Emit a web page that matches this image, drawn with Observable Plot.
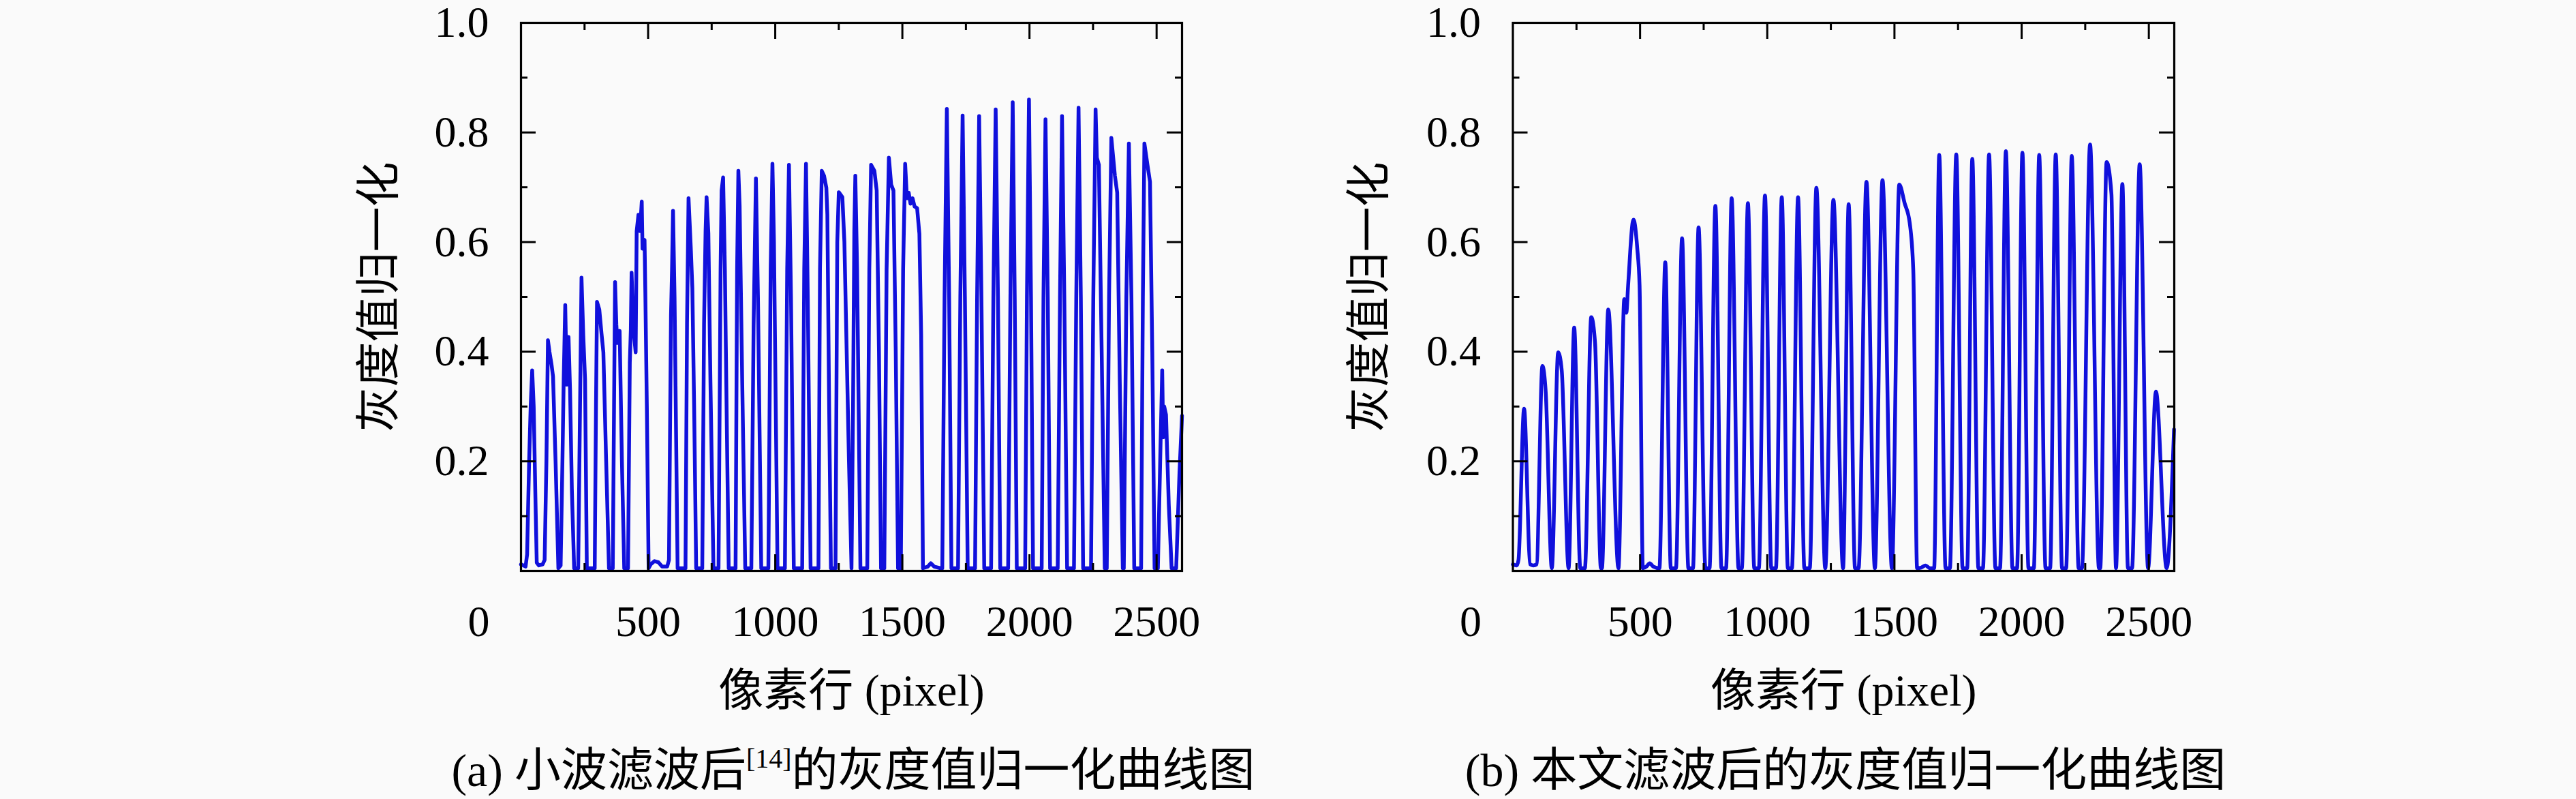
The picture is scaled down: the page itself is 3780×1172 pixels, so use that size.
<!DOCTYPE html>
<html>
<head>
<meta charset="utf-8">
<script src="https://cdn.jsdelivr.net/npm/d3@7"></script>
<script src="https://cdn.jsdelivr.net/npm/@observablehq/plot@0.6"></script>
<style>
html, body { margin: 0; padding: 0; background: #fafafa; }
#wrap { position: relative; width: 3780px; height: 1172px; overflow: hidden; background: #fafafa; }
.panel { position: absolute; top: 0; }
.cap { position: absolute; top: 1088px; font-family: 'Liberation Serif', 'Noto Sans CJK SC', serif; font-size: 68px; line-height: 84px; white-space: nowrap; transform: translateX(-50%); color: #000; }
.cap sup { font-size: 40px; vertical-align: 0; position: relative; top: -27px; }
</style>
</head>
<body>
<div id="wrap">
  <div class="panel" id="pa" style="left:0px"></div>
  <div class="panel" id="pb" style="left:1890px"></div>
  <div class="cap" style="left:1252px">(a) 小波滤波后<sup>[14]</sup>的灰度值归一化曲线图</div>
  <div class="cap" style="left:2708px">(b) 本文滤波后的灰度值归一化曲线图</div>
</div>
<script>
// ---- axis tick values ----
const xMajorTicks = [500, 1000, 1500, 2000, 2500];
const xMinorTicks = [250, 750, 1250, 1750, 2250];
const yMajorTicks = [0.2, 0.4, 0.6, 0.8];
const yMinorTicks = [0.1, 0.3, 0.5, 0.7, 0.9];
const yLabelTicks = [0.2, 0.4, 0.6, 0.8, 1.0];
const xOriginLabel = [0];
const xDomain = [0, 2600];
const yDomain = [0, 1];
const yTitle = "灰度值归一化";
const xTitle = "像素行 (pixel)";

// ---- (a) wavelet filtered curve ----
const waveletX = [0,18,24,32,38,44,50,56,62,70,85,93,100,106,112,120,126,136,147,156,163,168,174,180,187,193,200,209,225,231,238,245,252,259,290,295,299,308,317,324,335,346,361,366,370,375,379,388,397,406,421,428,432,435,442,451,455,462,468,475,478,486,489,495,502,510,525,540,555,575,582,590,594,598,604,610,616,647,653,659,668,674,681,689,713,720,726,730,737,745,757,777,785,789,795,802,810,817,844,850,855,860,870,882,906,915,924,932,945,973,982,989,995,1002,1009,1038,1047,1054,1062,1073,1106,1114,1121,1128,1139,1170,1176,1183,1192,1201,1205,1212,1219,1237,1244,1250,1264,1272,1290,1300,1306,1311,1315,1322,1335,1362,1370,1377,1390,1399,1408,1416,1429,1438,1447,1456,1465,1474,1483,1494,1503,1511,1518,1525,1532,1540,1548,1558,1567,1574,1581,1600,1612,1625,1650,1657,1666,1675,1684,1693,1719,1728,1737,1746,1757,1786,1794,1802,1811,1822,1849,1858,1867,1876,1885,1916,1925,1934,1942,1950,1983,1990,1998,2006,2014,2048,2055,2063,2072,2081,2111,2120,2128,2137,2148,2175,2184,2193,2202,2211,2242,2251,2260,2265,2273,2284,2296,2304,2313,2322,2336,2345,2355,2367,2371,2381,2391,2401,2412,2439,2446,2452,2464,2474,2483,2492,2505,2514,2522,2526,2530,2537,2548,2559,2577,2590,2600];
const waveletY = [0.012,0.008,0.03,0.2,0.3,0.366,0.3,0.15,0.015,0.01,0.012,0.02,0.2,0.421,0.4,0.377,0.355,0.2,0.005,0.01,0.2,0.35,0.485,0.34,0.427,0.33,0.15,0.005,0.005,0.25,0.535,0.43,0.35,0.005,0.005,0.3,0.491,0.477,0.432,0.399,0.2,0.005,0.005,0.3,0.527,0.45,0.416,0.438,0.2,0.005,0.005,0.38,0.44,0.544,0.444,0.399,0.62,0.65,0.62,0.674,0.588,0.604,0.51,0.3,0.005,0.012,0.018,0.016,0.008,0.008,0.02,0.466,0.55,0.657,0.5,0.25,0.005,0.005,0.45,0.68,0.588,0.516,0.3,0.005,0.005,0.45,0.62,0.682,0.616,0.35,0.005,0.005,0.55,0.694,0.718,0.55,0.25,0.005,0.005,0.55,0.73,0.666,0.35,0.005,0.005,0.45,0.716,0.5,0.005,0.005,0.55,0.743,0.6,0.3,0.005,0.005,0.55,0.741,0.5,0.005,0.005,0.55,0.743,0.5,0.005,0.005,0.55,0.73,0.721,0.699,0.65,0.3,0.005,0.005,0.6,0.691,0.682,0.6,0.2,0.005,0.3,0.62,0.721,0.55,0.005,0.005,0.55,0.741,0.73,0.694,0.4,0.005,0.005,0.55,0.754,0.705,0.694,0.4,0.005,0.005,0.55,0.743,0.68,0.69,0.67,0.68,0.665,0.662,0.615,0.43,0.005,0.008,0.014,0.008,0.005,0.005,0.5,0.843,0.5,0.005,0.005,0.5,0.831,0.5,0.005,0.005,0.5,0.83,0.5,0.005,0.005,0.5,0.842,0.5,0.005,0.005,0.5,0.855,0.5,0.005,0.005,0.5,0.86,0.5,0.005,0.005,0.5,0.824,0.5,0.005,0.005,0.5,0.83,0.5,0.005,0.005,0.5,0.845,0.5,0.005,0.005,0.5,0.842,0.754,0.741,0.4,0.005,0.005,0.5,0.79,0.721,0.69,0.35,0.005,0.005,0.5,0.78,0.5,0.005,0.005,0.5,0.78,0.741,0.71,0.4,0.005,0.005,0.2,0.366,0.244,0.3,0.285,0.12,0.005,0.005,0.18,0.283];

// ---- (b) proposed filtered curve ----
const proposedX = [0,15,22,44,68,80,93,116,129,153,178,192,219,241,265,283,308,323,346,350,375,415,438,446,453,474,489,498,511,525,538,552,576,599,621,641,665,690,708,730,757,773,796,820,838,860,887,900,924,949,967,991,1016,1034,1057,1081,1097,1121,1146,1167,1193,1228,1260,1298,1320,1345,1359,1390,1423,1453,1490,1519,1540,1560,1574,1589,1605,1622,1640,1656,1676,1701,1718,1743,1768,1786,1806,1830,1848,1872,1897,1915,1938,1964,1982,2003,2027,2048,2069,2094,2112,2134,2159,2175,2197,2224,2237,2269,2304,2309,2334,2353,2371,2396,2418,2434,2464,2497,2528,2570,2599];
const proposedY = [0.012,0.01,0.02,0.296,0.012,0.01,0.012,0.374,0.327,0.005,0.399,0.366,0.005,0.444,0.005,0.005,0.463,0.416,0.005,0.005,0.477,0.005,0.496,0.471,0.521,0.641,0.588,0.521,0.005,0.008,0.014,0.008,0.005,0.563,0.005,0.005,0.607,0.005,0.005,0.627,0.005,0.005,0.666,0.005,0.005,0.68,0.005,0.005,0.671,0.005,0.005,0.685,0.005,0.005,0.682,0.005,0.005,0.682,0.005,0.005,0.699,0.005,0.677,0.005,0.669,0.005,0.005,0.71,0.005,0.713,0.005,0.705,0.671,0.635,0.549,0.005,0.006,0.01,0.005,0.005,0.759,0.005,0.005,0.76,0.005,0.005,0.752,0.005,0.005,0.76,0.005,0.005,0.766,0.005,0.005,0.763,0.005,0.005,0.759,0.005,0.005,0.76,0.005,0.005,0.757,0.005,0.005,0.778,0.005,0.005,0.746,0.688,0.005,0.706,0.005,0.005,0.742,0.005,0.327,0.005,0.258];

const SVG_W = 1890, SVG_H = 1060, M_TOP = 33, M_BOTTOM = 223;
const FRAME_H = SVG_H - M_TOP - M_BOTTOM;
const LATIN = "'Liberation Serif', 'Noto Sans CJK SC', serif";
const CJK = "'Liberation Serif', 'Noto Sans CJK SC', sans-serif";

function panel(xs, ys, {marginLeft, marginRight, yTitleDx, curve}) {
  const frameW = SVG_W - marginLeft - marginRight;
  const idx = d3.range(xs.length);
  const tick = {stroke: "#000", strokeWidth: 3};
  return Plot.plot({
    width: SVG_W,
    height: SVG_H,
    marginLeft, marginRight,
    marginTop: M_TOP,
    marginBottom: M_BOTTOM,
    x: {domain: xDomain},
    y: {domain: yDomain},
    style: {background: "#fafafa", fontFamily: LATIN, color: "#000", maxWidth: "none", overflow: "visible"},
    marks: [
      Plot.line(idx, {x: i => xs[i], y: i => ys[i], stroke: "#1010dc", strokeWidth: 5.5, curve, strokeLinejoin: "round"}),
      Plot.frame({stroke: "#000", strokeWidth: 3.2}),
      Plot.tickX(xMajorTicks, {x: d => d, insetTop: FRAME_H - 24, ...tick}),
      Plot.tickX(xMajorTicks, {x: d => d, insetBottom: FRAME_H - 24, ...tick}),
      Plot.tickX(xMinorTicks, {x: d => d, insetTop: FRAME_H - 11, ...tick}),
      Plot.tickX(xMinorTicks, {x: d => d, insetBottom: FRAME_H - 11, ...tick}),
      Plot.tickY(yMajorTicks, {y: d => d, insetRight: frameW - 22, ...tick}),
      Plot.tickY(yMajorTicks, {y: d => d, insetLeft: frameW - 22, ...tick}),
      Plot.tickY(yMinorTicks, {y: d => d, insetRight: frameW - 10, ...tick}),
      Plot.tickY(yMinorTicks, {y: d => d, insetLeft: frameW - 10, ...tick}),
      Plot.axisX(xMajorTicks, {tickSize: 0, tickPadding: 50, fontSize: 64, label: null, fontFamily: LATIN, tickFormat: d => String(d)}),
      Plot.axisY(yLabelTicks, {tickSize: 0, tickPadding: 47, fontSize: 64, label: null, fontFamily: LATIN, tickFormat: d3.format(".1f")}),
      Plot.text(xOriginLabel, {x: d => d, frameAnchor: "bottom", dy: 50, dx: -62, lineAnchor: "top", textAnchor: "middle", text: d => String(d), fontSize: 64, fontFamily: LATIN}),
      Plot.text([yTitle], {frameAnchor: "left", dx: yTitleDx, rotate: -90, textAnchor: "middle", lineAnchor: "middle", fontSize: 66, fontFamily: CJK}),
      Plot.text([xTitle], {frameAnchor: "bottom", dy: 176, textAnchor: "middle", lineAnchor: "middle", fontSize: 66, fontFamily: CJK})
    ]
  });
}

document.getElementById("pa").append(panel(waveletX, waveletY, {marginLeft: 764, marginRight: 156, yTitleDx: -208, curve: "linear"}));
document.getElementById("pb").append(panel(proposedX, proposedY, {marginLeft: 329.5, marginRight: 590, yTitleDx: -210.5, curve: "monotone-x"}));
</script>
</body>
</html>
